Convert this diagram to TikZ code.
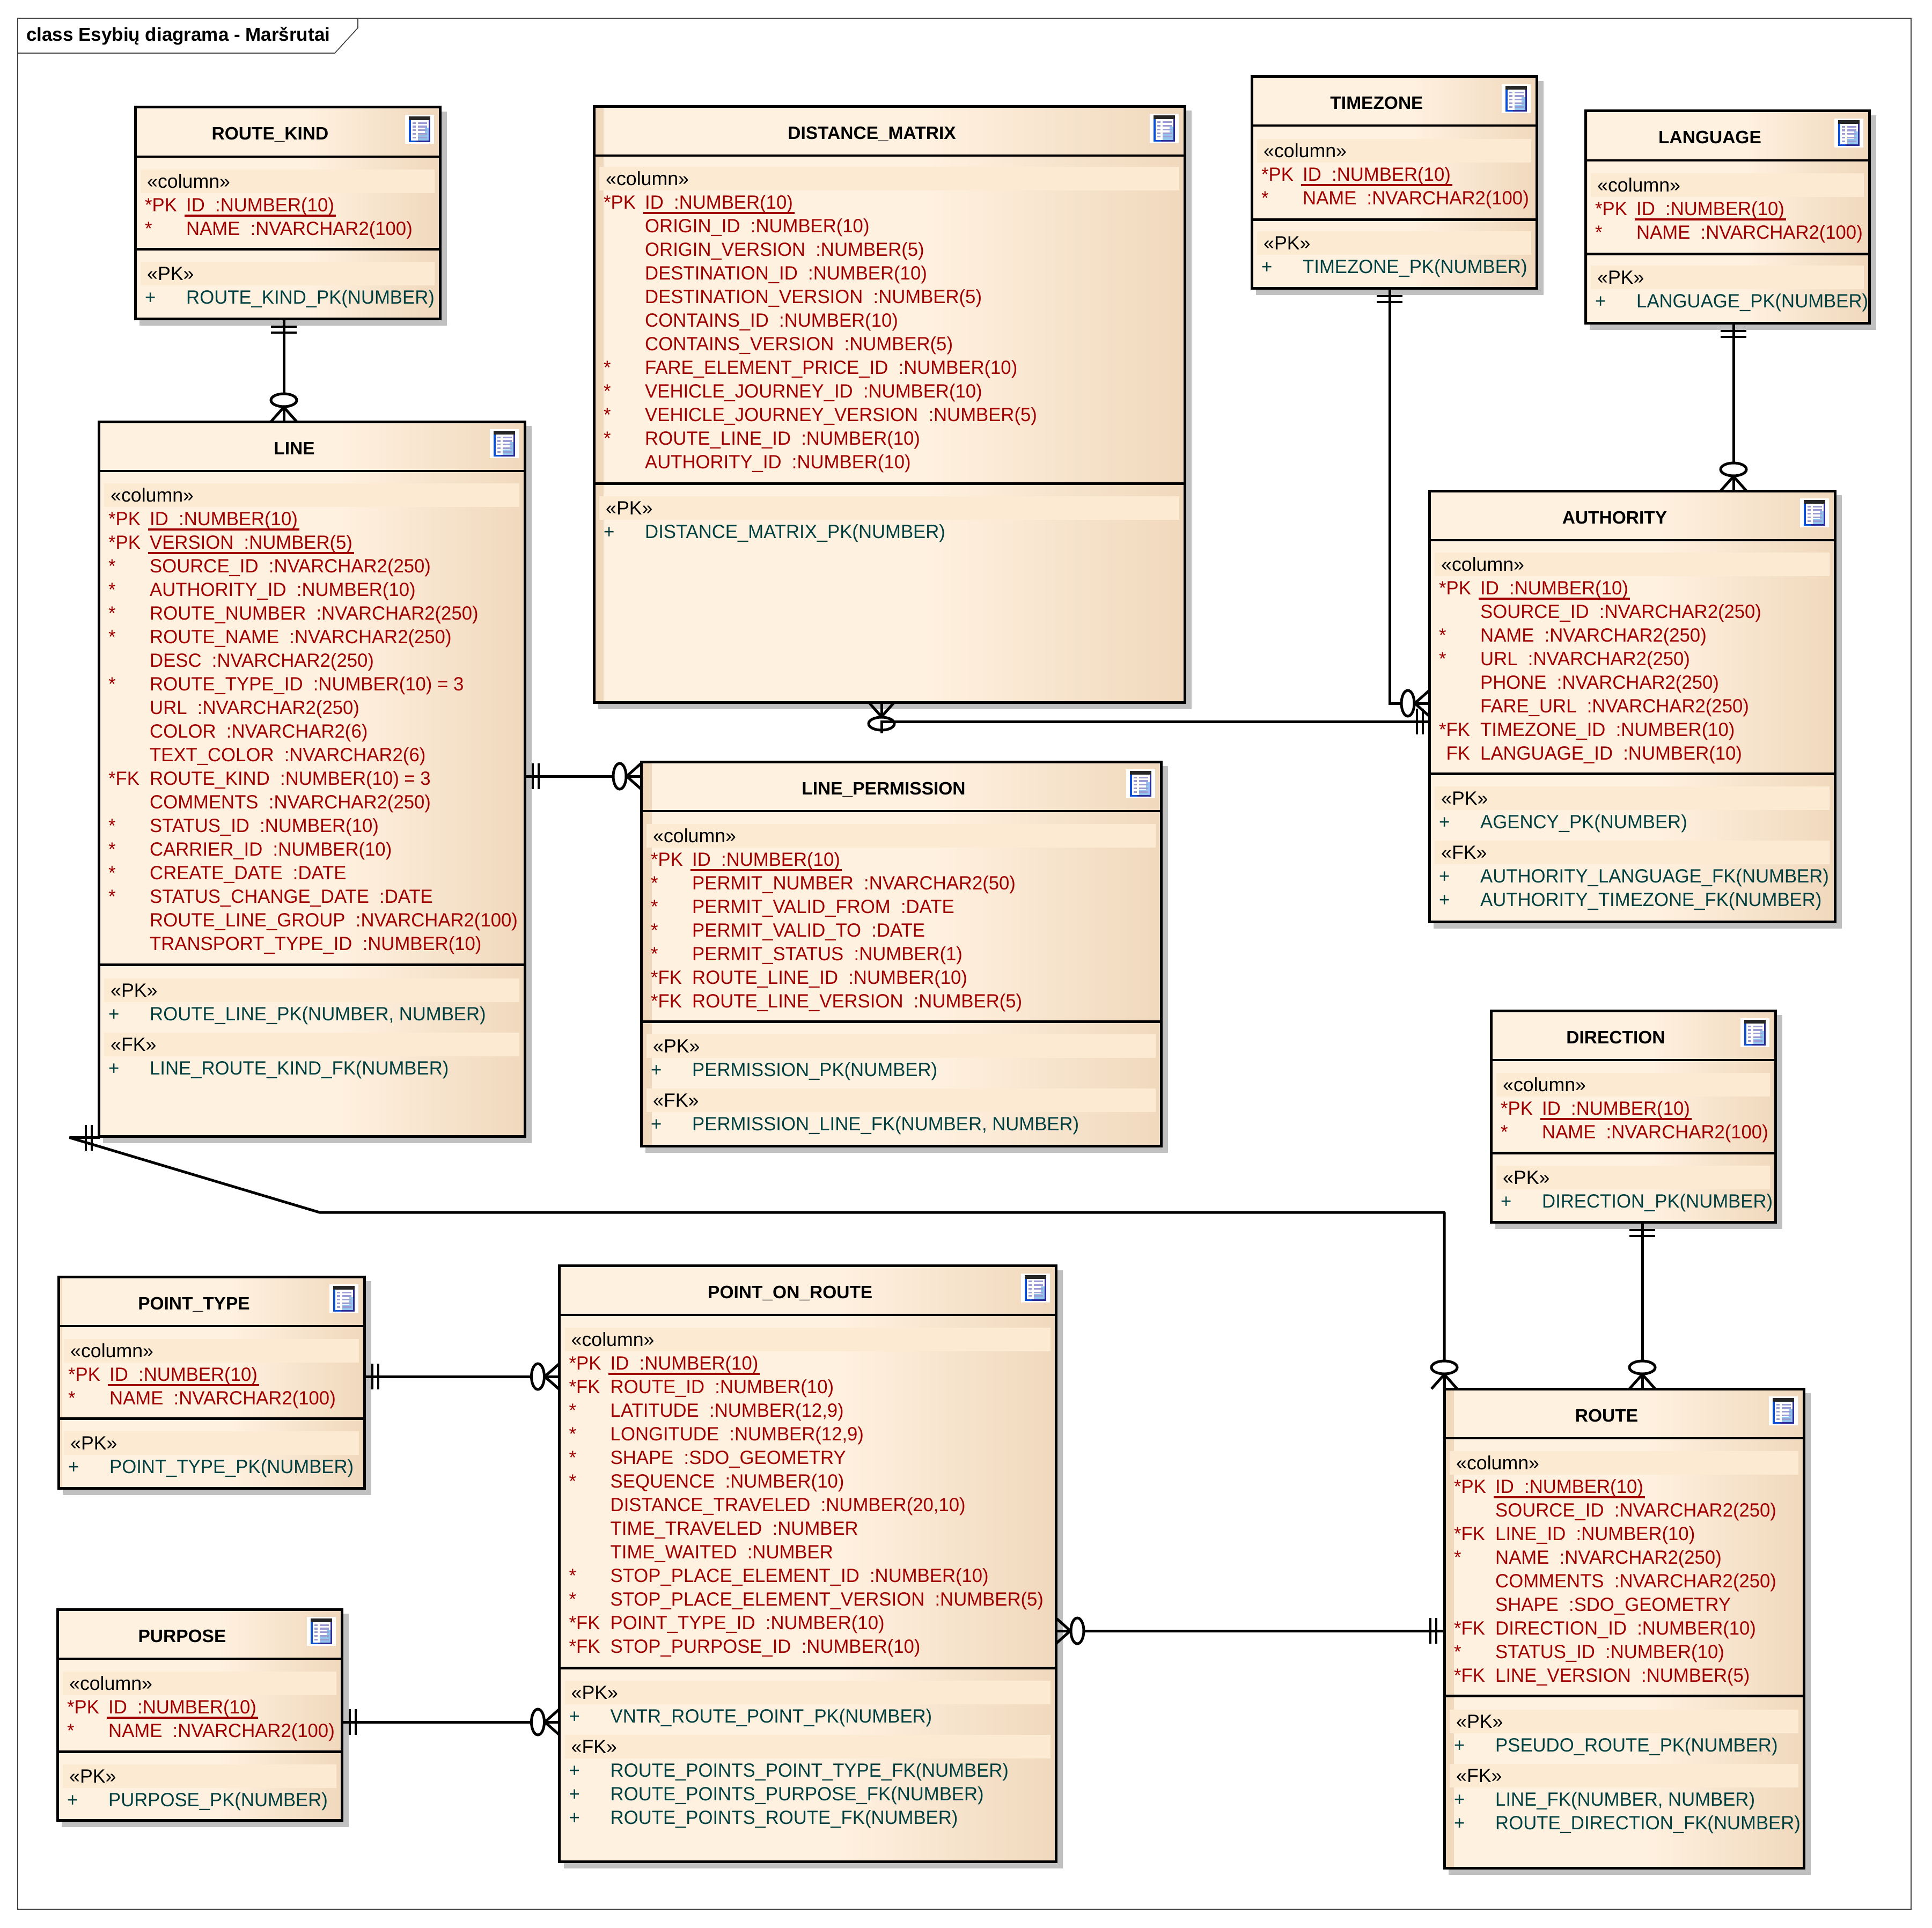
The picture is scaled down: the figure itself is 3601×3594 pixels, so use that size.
\documentclass[tikz,border=0pt]{standalone}
\usepackage{fontspec}
\setmainfont{Liberation Sans}
\newfontface\errowface{Liberation Sans}[FakeStretch=0.972]
\usetikzlibrary{calc}
\definecolor{erone}{HTML}{FFF1E0}
\definecolor{ertwo}{HTML}{F0D8BC}
\definecolor{erband}{HTML}{FDEAD2}
\definecolor{ershadow}{HTML}{C0C0C0}
\definecolor{erred}{HTML}{A00000}
\definecolor{erteal}{HTML}{004040}
\definecolor{icnavy}{HTML}{2C2C98}
\definecolor{icblue}{HTML}{0A50D0}
\definecolor{iclilac}{HTML}{9C9CD4}
\definecolor{icsky}{HTML}{90C4EC}
\pgfdeclarehorizontalshading{erfill}{100bp}{color(0bp)=(erone); color(25bp)=(erone); color(53bp)=(erone); color(75bp)=(ertwo); color(100bp)=(ertwo)}
\catcode`\_=12
\tikzset{
  x=1pt,y=-1pt,
  erbody/.style={shading=erfill,inner sep=0,outer sep=0},
  erborder/.style={draw=black,line width=5pt},
  headline/.style={draw=black,line width=4pt},
  sepline/.style={draw=black,line width=5pt},
  ershade/.style={fill=ershadow},
  band/.style={fill=erband},
  erstrip/.style={fill=ertwo},
  titletxt/.style={anchor=base,inner sep=0,font=\fontsize{33.5}{40}\selectfont\bfseries},
  stereotxt/.style={anchor=base west,inner sep=0,font=\fontsize{35.7}{44}\selectfont},
  rowtxt/.style={anchor=base west,inner sep=0,font=\errowface\fontsize{35.7}{44}\selectfont},
  ulline/.style={draw=erred,line width=4.6pt},
  conn/.style={draw=black,line width=5pt},
  barline/.style={draw=black,line width=4.8pt},
  framed/.style={draw=black!75,line width=1.6pt},
}
\newcommand{\ericon}[2]{%
  \begin{scope}[shift={(#1,#2)}]
    \fill[white] (0,0) rectangle (54,54);
    \fill[icnavy] (7,3) rectangle (47.3,51);
    \fill[icblue] (7,10) rectangle (10.7,51);
    \fill[icblue] (7,48) rectangle (21,51);
    \fill[black!85] (7,3) rectangle (47.3,10);
    \fill[white] (10.7,10) rectangle (44,48);
    \fill[icsky] (37,24) rectangle (44,48);
    \fill[icsky] (24,38) rectangle (44,48);
    \foreach \yy in {15.3,22,28.7,35.7,42.3}{
      \fill[iclilac] (13.7,\yy-1.6) rectangle (20.3,\yy+1.6);
      \fill[iclilac] (24,\yy-1.6) rectangle (40.7,\yy+1.6);
    }
  \end{scope}}
% id, L, T, R, B, S, strip, title
\newcommand{\erbox}[8]{%
  \fill[ershade] (#2+8,#3+8) rectangle (#4+12.5,#5+12.5);
  \node[erbody,minimum width={(#4-#2)*1pt},minimum height={(#5-#3)*1pt}] (#1) at ({(#2+#4)/2},{(#3+#5)/2}) {};
  \fill[erstrip] (#2,#3) rectangle (#2+#7,#5);
  \draw[headline] (#2,#3+91.5) -- (#4,#3+91.5);
  \draw[sepline] (#2,#6) -- (#4,#6);
  \draw[erborder] (#1.north west) rectangle (#1.south east);
  \node[titletxt] (#1title) at ({(#2+#4-65)/2},#3+61) {#8};
  \ericon{#4-65}{#3+14}}
% id, L, R, Y (top of section), stereotype, underlined count, colour, list
\newcommand{\ersec}[8]{%
  \fill[band] (#2+10,#4+24) rectangle (#3-10,#4+68);
  \node[stereotxt,text=black] (#1#5) at (#2+22,#4+58) {«#5»};
  \foreach \rpre/\rname [count=\ri] in {#8}{
    \node[rowtxt,text=#7] (#1#5p\ri) at (#2+18,{#4+102+44*(\ri-1)}) {\rpre};
    \node[rowtxt,text=#7] (#1#5n\ri) at (#2+95,{#4+102+44*(\ri-1)}) {\rname};
    \ifnum\ri>#6\relax\else
      \draw[ulline] ([xshift=-3.5pt,yshift=-8pt]#1#5n\ri.base west) -- ([xshift=2.5pt,yshift=-8pt]#1#5n\ri.base east);
    \fi
  }}
% origin coordinate, angle: crow's foot with zero ring
\newcommand{\crow}[2]{%
  \begin{scope}[shift={(#1)},rotate=#2]
    \draw[conn] (0,-24) -- (27,0) -- (0,24);
    \draw[conn] (0,0) -- (27,0);
    \draw[conn,fill=white] (40,0) ellipse [x radius=12,y radius=24];
  \end{scope}}
\newcommand{\onebar}[2]{%
  \begin{scope}[shift={(#1)},rotate=#2]
    \draw[barline] (15,-24) -- (15,24);
    \draw[barline] (26,-24) -- (26,24);
  \end{scope}}
\begin{document}
\begin{tikzpicture}
\useasboundingbox (0,0) rectangle (3601,3594);
\fill[white] (0,0) rectangle (3601,3594);
% frame
\draw[framed] (33,34) rectangle (3562,3559);
\draw[framed] (667,34) -- (667,52) -- (624,99) -- (33,99);
\node[anchor=base west,inner sep=0,font=\fontsize{35}{40}\selectfont\bfseries] (frametitle) at (49,76.5) {class Esybių diagrama - Maršrutai};

% ROUTE_KIND
\erbox{rk}{252}{200}{820}{594}{464}{0}{ROUTE_KIND}
\ersec{rk}{252}{820}{292}{column}{1}{erred}{*PK/ID~~:NUMBER(10), */NAME~~:NVARCHAR2(100)}
\ersec{rk}{252}{820}{464}{PK}{0}{erteal}{+/ROUTE_KIND_PK(NUMBER)}

% LINE
\erbox{line}{184}{786}{978}{2118}{1798}{0}{LINE}
\ersec{line}{184}{978}{877}{column}{2}{erred}{*PK/ID~~:NUMBER(10), *PK/VERSION~~:NUMBER(5), */SOURCE_ID~~:NVARCHAR2(250), */AUTHORITY_ID~~:NUMBER(10), */ROUTE_NUMBER~~:NVARCHAR2(250), */ROUTE_NAME~~:NVARCHAR2(250), {}/DESC~~:NVARCHAR2(250), */ROUTE_TYPE_ID~~:NUMBER(10) = 3, {}/URL~~:NVARCHAR2(250), {}/COLOR~~:NVARCHAR2(6), {}/TEXT_COLOR~~:NVARCHAR2(6), *FK/ROUTE_KIND~~:NUMBER(10) = 3, {}/COMMENTS~~:NVARCHAR2(250), */STATUS_ID~~:NUMBER(10), */CARRIER_ID~~:NUMBER(10), */CREATE_DATE~~:DATE, */STATUS_CHANGE_DATE~~:DATE, {}/ROUTE_LINE_GROUP~~:NVARCHAR2(100), {}/TRANSPORT_TYPE_ID~~:NUMBER(10)}
\ersec{line}{184}{978}{1800}{PK}{0}{erteal}{+/{ROUTE_LINE_PK(NUMBER, NUMBER)}}
\ersec{line}{184}{978}{1901}{FK}{0}{erteal}{+/LINE_ROUTE_KIND_FK(NUMBER)}

% DISTANCE_MATRIX
\erbox{dm}{1107}{198.5}{2208}{1309}{901}{18}{DISTANCE_MATRIX}
\ersec{dm}{1107}{2208}{287}{column}{1}{erred}{*PK/ID~~:NUMBER(10), {}/ORIGIN_ID~~:NUMBER(10), {}/ORIGIN_VERSION~~:NUMBER(5), {}/DESTINATION_ID~~:NUMBER(10), {}/DESTINATION_VERSION~~:NUMBER(5), {}/CONTAINS_ID~~:NUMBER(10), {}/CONTAINS_VERSION~~:NUMBER(5), */FARE_ELEMENT_PRICE_ID~~:NUMBER(10), */VEHICLE_JOURNEY_ID~~:NUMBER(10), */VEHICLE_JOURNEY_VERSION~~:NUMBER(5), */ROUTE_LINE_ID~~:NUMBER(10), {}/AUTHORITY_ID~~:NUMBER(10)}
\ersec{dm}{1107}{2208}{901}{PK}{0}{erteal}{+/DISTANCE_MATRIX_PK(NUMBER)}

% TIMEZONE
\erbox{tz}{2333}{143}{2864}{537}{409}{0}{TIMEZONE}
\ersec{tz}{2333}{2864}{235}{column}{1}{erred}{*PK/ID~~:NUMBER(10), */NAME~~:NVARCHAR2(100)}
\ersec{tz}{2333}{2864}{407}{PK}{0}{erteal}{+/TIMEZONE_PK(NUMBER)}

% LANGUAGE
\erbox{lang}{2955}{207}{3484}{602}{473}{5}{LANGUAGE}
\ersec{lang}{2955}{3484}{299}{column}{1}{erred}{*PK/ID~~:NUMBER(10), */NAME~~:NVARCHAR2(100)}
\ersec{lang}{2955}{3484}{471}{PK}{0}{erteal}{+/LANGUAGE_PK(NUMBER)}

% AUTHORITY
\erbox{auth}{2664}{915}{3420}{1718}{1442}{0}{AUTHORITY}
\ersec{auth}{2664}{3420}{1006}{column}{1}{erred}{*PK/ID~~:NUMBER(10), {}/SOURCE_ID~~:NVARCHAR2(250), */NAME~~:NVARCHAR2(250), */URL~~:NVARCHAR2(250), {}/PHONE~~:NVARCHAR2(250), {}/FARE_URL~~:NVARCHAR2(250), *FK/TIMEZONE_ID~~:NUMBER(10), {\phantom{*}FK}/LANGUAGE_ID~~:NUMBER(10)}
\ersec{auth}{2664}{3420}{1442}{PK}{0}{erteal}{+/AGENCY_PK(NUMBER)}
\ersec{auth}{2664}{3420}{1543}{FK}{0}{erteal}{+/AUTHORITY_LANGUAGE_FK(NUMBER), +/AUTHORITY_TIMEZONE_FK(NUMBER)}

% LINE_PERMISSION
\erbox{lp}{1195}{1420}{2164}{2136}{1904}{20}{LINE_PERMISSION}
\ersec{lp}{1195}{2164}{1512}{column}{1}{erred}{*PK/ID~~:NUMBER(10), */PERMIT_NUMBER~~:NVARCHAR2(50), */PERMIT_VALID_FROM~~:DATE, */PERMIT_VALID_TO~~:DATE, */PERMIT_STATUS~~:NUMBER(1), *FK/ROUTE_LINE_ID~~:NUMBER(10), *FK/ROUTE_LINE_VERSION~~:NUMBER(5)}
\ersec{lp}{1195}{2164}{1904}{PK}{0}{erteal}{+/PERMISSION_PK(NUMBER)}
\ersec{lp}{1195}{2164}{2005}{FK}{0}{erteal}{+/{PERMISSION_LINE_FK(NUMBER, NUMBER)}}

% DIRECTION
\erbox{dir}{2779}{1884}{3309}{2278}{2149}{0}{DIRECTION}
\ersec{dir}{2779}{3309}{1976}{column}{1}{erred}{*PK/ID~~:NUMBER(10), */NAME~~:NVARCHAR2(100)}
\ersec{dir}{2779}{3309}{2149}{PK}{0}{erteal}{+/DIRECTION_PK(NUMBER)}

% POINT_TYPE
\erbox{pt}{109}{2380}{679}{2774}{2644}{7}{POINT_TYPE}
\ersec{pt}{109}{679}{2472}{column}{1}{erred}{*PK/ID~~:NUMBER(10), */NAME~~:NVARCHAR2(100)}
\ersec{pt}{109}{679}{2644}{PK}{0}{erteal}{+/POINT_TYPE_PK(NUMBER)}

% PURPOSE
\erbox{pur}{107}{3000}{637}{3393}{3265}{3}{PURPOSE}
\ersec{pur}{107}{637}{3092}{column}{1}{erred}{*PK/ID~~:NUMBER(10), */NAME~~:NVARCHAR2(100)}
\ersec{pur}{107}{637}{3265}{PK}{0}{erteal}{+/PURPOSE_PK(NUMBER)}

% POINT_ON_ROUTE
\erbox{por}{1042.5}{2359.5}{1968}{3470}{3109}{0}{POINT_ON_ROUTE}
\ersec{por}{1042.5}{1968}{2451}{column}{1}{erred}{*PK/ID~~:NUMBER(10), *FK/ROUTE_ID~~:NUMBER(10), */LATITUDE~~:{NUMBER(12,9)}, */LONGITUDE~~:{NUMBER(12,9)}, */SHAPE~~:SDO_GEOMETRY, */SEQUENCE~~:NUMBER(10), {}/{DISTANCE_TRAVELED~~:NUMBER(20,10)}, {}/TIME_TRAVELED~~:NUMBER, {}/TIME_WAITED~~:NUMBER, */STOP_PLACE_ELEMENT_ID~~:NUMBER(10), */STOP_PLACE_ELEMENT_VERSION~~:NUMBER(5), *FK/POINT_TYPE_ID~~:NUMBER(10), *FK/STOP_PURPOSE_ID~~:NUMBER(10)}
\ersec{por}{1042.5}{1968}{3109}{PK}{0}{erteal}{+/VNTR_ROUTE_POINT_PK(NUMBER)}
\ersec{por}{1042.5}{1968}{3210}{FK}{0}{erteal}{+/ROUTE_POINTS_POINT_TYPE_FK(NUMBER), +/ROUTE_POINTS_PURPOSE_FK(NUMBER), +/ROUTE_POINTS_ROUTE_FK(NUMBER)}

% ROUTE
\erbox{route}{2692}{2589}{3362}{3482}{3161}{18}{ROUTE}
\ersec{route}{2692}{3362}{2681}{column}{1}{erred}{*PK/ID~~:NUMBER(10), {}/SOURCE_ID~~:NVARCHAR2(250), *FK/LINE_ID~~:NUMBER(10), */NAME~~:NVARCHAR2(250), {}/COMMENTS~~:NVARCHAR2(250), {}/SHAPE~~:SDO_GEOMETRY, *FK/DIRECTION_ID~~:NUMBER(10), */STATUS_ID~~:NUMBER(10), *FK/LINE_VERSION~~:NUMBER(5)}
\ersec{route}{2692}{3362}{3163}{PK}{0}{erteal}{+/PSEUDO_ROUTE_PK(NUMBER)}
\ersec{route}{2692}{3362}{3264}{FK}{0}{erteal}{+/{LINE_FK(NUMBER, NUMBER)}, +/ROUTE_DIRECTION_FK(NUMBER)}

% connectors
% ROUTE_KIND - LINE
\coordinate (a1) at (rk.south -| 529,0);
\coordinate (b1) at (line.north -| 529,0);
\draw[conn] (a1) -- (b1);
\onebar{a1}{270}
\crow{b1}{90}
% LINE - LINE_PERMISSION
\coordinate (a2) at (line.east |- 0,1447);
\coordinate (b2) at (lp.west |- 0,1447);
\draw[conn] (a2) -- (b2);
\onebar{a2}{0}
\crow{b2}{180}
% TIMEZONE - AUTHORITY
\coordinate (a3) at (tz.south -| 2590,0);
\coordinate (b3) at (auth.west |- 0,1311);
\draw[conn] (a3) |- (b3);
\onebar{a3}{270}
\crow{b3}{180}
% DISTANCE_MATRIX - AUTHORITY
\coordinate (a4) at (dm.south -| 1643,0);
\coordinate (m4) at (1643,1345);
\coordinate (e4) at (1643,1367);
\coordinate (b4) at (auth.west |- m4);
\coordinate (c4) at ([xshift=3pt]b4);
\crow{a4}{270}
\draw[conn] (m4) -- (b4);
\draw[conn] ([yshift=2pt]m4) -- (e4);
\onebar{c4}{180}
% LANGUAGE - AUTHORITY
\coordinate (a5) at (lang.south -| 3231,0);
\coordinate (b5) at (auth.north -| 3231,0);
\draw[conn] (a5) -- (b5);
\onebar{a5}{270}
\crow{b5}{90}
% LINE - ROUTE
\coordinate (a6) at ([xshift=2pt,yshift=-2.5pt]line.south west);
\coordinate (s6) at (129.5,2120.5);
\coordinate (m6) at (595.5,2260);
\coordinate (b6) at (route.north west);
\draw[conn,line join=bevel] (a6) -- (s6) -- (m6) -| (b6);
\onebar{a6}{180}
\crow{b6}{90}
% POINT_ON_ROUTE - ROUTE
\coordinate (a7) at (route.west |- 0,3040);
\coordinate (b7) at (por.east |- 0,3040);
\draw[conn] (a7) -- (b7);
\onebar{a7}{180}
\crow{b7}{0}
% POINT_TYPE - POINT_ON_ROUTE
\coordinate (a8) at (pt.east |- 0,2566);
\coordinate (b8) at (por.west |- 0,2566);
\draw[conn] (a8) -- (b8);
\onebar{a8}{0}
\crow{b8}{180}
% PURPOSE - POINT_ON_ROUTE
\coordinate (a9) at (pur.east |- 0,3210);
\coordinate (b9) at (por.west |- 0,3210);
\draw[conn] (a9) -- (b9);
\onebar{a9}{0}
\crow{b9}{180}
% DIRECTION - ROUTE
\coordinate (a10) at (dir.south -| 3061,0);
\coordinate (b10) at (route.north -| 3061,0);
\draw[conn] (a10) -- (b10);
\onebar{a10}{270}
\crow{b10}{90}
\end{tikzpicture}
\end{document}
